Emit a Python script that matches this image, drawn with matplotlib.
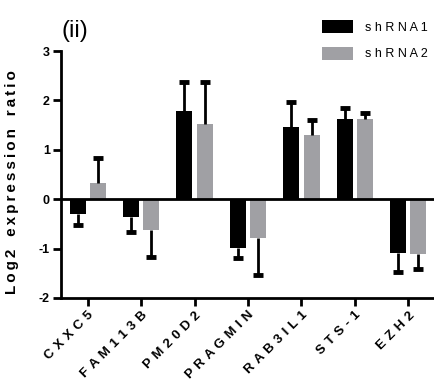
import matplotlib
matplotlib.use("Agg")
import matplotlib.pyplot as plt
import numpy as np

genes = ["CXXC5", "FAM113B", "PM20D2", "PRAGMIN", "RAB3IL1", "STS-1", "EZH2"]
shrna1 = [-0.29, -0.36, 1.78, -0.98, 1.46, 1.63, -1.08]
shrna1_err = [0.24, 0.30, 0.60, 0.21, 0.51, 0.22, 0.39]
shrna2 = [0.32, -0.63, 1.53, -0.79, 1.29, 1.62, -1.10]
shrna2_err = [0.52, 0.55, 0.85, 0.75, 0.31, 0.12, 0.32]
series_names = ["shRNA1", "shRNA2"]
yticks = [-2, -1, 0, 1, 2, 3]

def spaced(s, sep=" "):
    return sep.join(list(s))

plt.rcParams['font.family'] = ['Liberation Sans', 'DejaVu Sans']

fig = plt.figure(figsize=(4.35, 3.82), dpi=100)
ax = fig.add_axes([61/435, 84/382, (435-61)/435, (298-51)/382])

x = np.arange(len(genes))
w = 0.30
off = 0.19
colors = ["#000000", "#a0a0a4"]
for vals, errs, o, c, name in [(shrna1, shrna1_err, -off, colors[0], series_names[0]),
                                (shrna2, shrna2_err, off, colors[1], series_names[1])]:
    vals = np.array(vals); errs = np.array(errs)
    ax.bar(x + o, vals, width=w, color=c, label=spaced(name), zorder=2)
    sign = np.where(vals < 0, -1, 1)
    ends = vals + sign * errs
    ax.vlines(x + o, vals, ends, color='black', lw=2, zorder=3)
    ax.plot(x + o, ends, ls='none', marker='_', ms=7, mew=3.5, color='black', zorder=3)

ax.axhline(0, color='black', lw=2, zorder=4)
ax.set_xlim(-0.5, 6.5)
ax.set_ylim(-2, 3)
ax.set_yticks(yticks)
ax.set_yticklabels([str(t) for t in yticks], fontweight='bold', fontsize=9)
ax.set_xticks(x)
ax.set_xticklabels([spaced(g, " \u200a") for g in genes], rotation=45, ha='right',
                   rotation_mode='anchor', fontweight='bold', fontsize=9.5)
for s in ['top', 'right']:
    ax.spines[s].set_visible(False)
for s in ['left', 'bottom']:
    ax.spines[s].set_linewidth(2)
ax.tick_params(axis='both', width=2, length=6, pad=2)
ylab = "   ".join(spaced(wd, "\u2009") for wd in "Log2 expression ratio".split())
ax.set_ylabel(ylab, fontweight='bold', fontsize=11)
ax.yaxis.set_label_coords(-0.112, 0.47)

fig.text(62/435, 1 - 31/382, "(ii)", fontsize=17, va='center', ha='left')

leg = ax.legend(loc='upper left', bbox_to_anchor=(311/435, 1 - 9/382),
                bbox_transform=fig.transFigure, frameon=False, fontsize=9,
                handlelength=2.45, handleheight=1.25, labelspacing=1.0, handletextpad=1.0)

fig.savefig("out.png", dpi=100)
